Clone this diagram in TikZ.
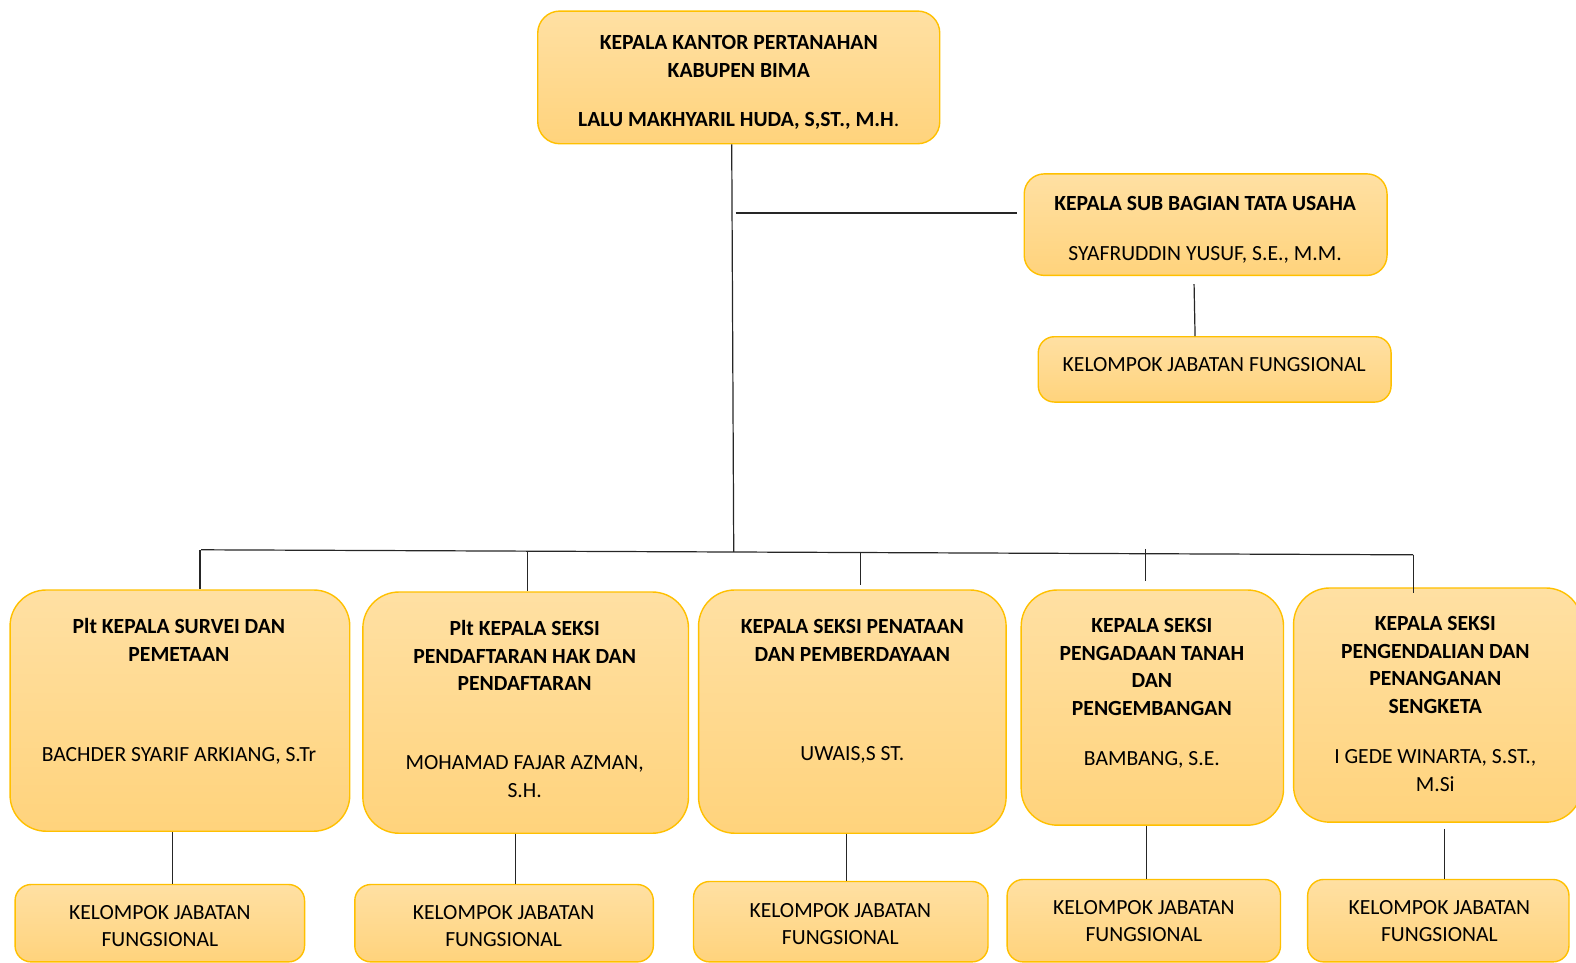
\documentclass[tikz,border=0pt]{standalone}
\usepackage{fontspec}
\setmainfont{Carlito}
\usetikzlibrary{fit}
\definecolor{kTop}{HTML}{FFE0A3}
\definecolor{kBot}{HTML}{FFD37C}
\definecolor{kLine}{HTML}{FFC000}
\newcommand{\B}[1]{\textbf{#1}}
\begin{document}
\begin{tikzpicture}[x=0.5pt,y=-0.5pt,
  box/.style={draw=kLine, line width=0.7pt, top color=kTop, bottom color=kBot, inner sep=0pt},
  txt/.style={align=center, inner sep=0pt, font=\fontsize{10.75}{13.7}\selectfont, anchor=north},
  link/.style={draw=black!85, line width=0.6pt}]
\useasboundingbox (0,0) rectangle (1568,958);

% boxes
\node[box, rounded corners=11pt, fit={(535,11)(935,143)}] (kk) {};
\node[box, rounded corners=10pt, fit={(1019,173)(1380,274)}] (sub) {};
\node[box, rounded corners=8pt, fit={(1033,335)(1384,400)}] (subk) {};
\node[box, rounded corners=18pt, fit={(10,587)(348,827)}] (s1) {};
\node[box, rounded corners=18pt, fit={(361,589)(685,829)}] (s2) {};
\node[box, rounded corners=18pt, fit={(695,587)(1001,829)}] (s3) {};
\node[box, rounded corners=18pt, fit={(1016,587)(1277,821)}] (s4) {};
\node[box, rounded corners=18pt, fit={(1287,585)(1574,818)}] (s5) {};
\node[box, rounded corners=8pt, fit={(15,880)(303,957)}] (k1) {};
\node[box, rounded corners=8pt, fit={(353,880)(650,957)}] (k2) {};
\node[box, rounded corners=8pt, fit={(690,877)(983,957)}] (k3) {};
\node[box, rounded corners=8pt, fit={(1002,875)(1274,957)}] (k4) {};
\node[box, rounded corners=8pt, fit={(1301,875)(1561,957)}] (k5) {};

% texts
\node[txt] (tkk) at (735,35) {\B{KEPALA KANTOR PERTANAHAN}\\\B{KABUPEN BIMA}\\[11pt]\B{LALU MAKHYARIL HUDA, S,ST., M.H}.};
\node[txt] (tsub) at (1199,195) {\B{KEPALA SUB BAGIAN TATA USAHA}\\[11pt]SYAFRUDDIN YUSUF, S.E., M.M.};
\node[txt] (tsubk) at (1208,355) {KELOMPOK JABATAN FUNGSIONAL};
\node[txt] (ts1) at (178,615) {\B{Plt KEPALA SURVEI DAN}\\\B{PEMETAAN}\\[36pt]BACHDER SYARIF ARKIANG, S.Tr};
\node[txt] (ts2) at (522,617) {\B{Plt KEPALA SEKSI}\\\B{PENDAFTARAN HAK DAN}\\\B{PENDAFTARAN}\\[25.5pt]MOHAMAD FAJAR AZMAN,\\S.H.};
\node[txt] (ts3) at (848,616) {\B{KEPALA SEKSI PENATAAN}\\\B{DAN PEMBERDAYAAN}\\[35.5pt]UWAIS,S ST.};
\node[txt] (ts4) at (1146,615) {\B{KEPALA SEKSI}\\\B{PENGADAAN TANAH}\\\B{DAN}\\\B{PENGEMBANGAN}\\[11.5pt]BAMBANG, S.E.};
\node[txt] (ts5) at (1428,613) {\B{KEPALA SEKSI}\\\B{PENGENDALIAN DAN}\\\B{PENANGANAN}\\\B{SENGKETA}\\[11.5pt]I GEDE WINARTA, S.ST.,\\M.Si};
\node[txt] (tk1) at (159,900) {KELOMPOK JABATAN\\FUNGSIONAL};
\node[txt] (tk2) at (501,900) {KELOMPOK JABATAN\\FUNGSIONAL};
\node[txt] (tk3) at (836,898) {KELOMPOK JABATAN\\FUNGSIONAL};
\node[txt] (tk4) at (1138,895) {KELOMPOK JABATAN\\FUNGSIONAL};
\node[txt] (tk5) at (1432,895) {KELOMPOK JABATAN\\FUNGSIONAL};

% connectors
\coordinate (vt) at (728,143);
\coordinate (j0) at (730,549);
\draw[link] (kk.south -| vt) -- (j0);
\coordinate (h1) at (732,212);
\draw[link] (h1) -- ([xshift=-3pt]sub.west |- h1);
\coordinate (sx) at (1188,0);
\coordinate (sx2) at (1189,0);
\draw[link] ([yshift=-4pt]sub.south -| sx) -- (sx2 |- subk.north);

\coordinate (bL) at (200,547);
\coordinate (bR) at (1406,552);
\draw[link] (bL) -- (bR);
\coordinate (d1) at (199,547);
\coordinate (d2) at (525,549);
\coordinate (d3) at (856,549);
\coordinate (d4) at (1140,546);
\coordinate (d5) at (1406,552);
\draw[link] (d1) -- (d1 |- s1.north);
\draw[link] (d2) -- (d2 |- s2.north);
\draw[link] (d3) -- ([yshift=2pt]d3 |- s3.north);
\draw[link] (d4) -- ([yshift=4pt]d4 |- s4.north);
\draw[link] (d5) -- ([yshift=-3pt]d5 |- s5.north);

\coordinate (e1) at (172,0);
\coordinate (e2) at (513,0);
\coordinate (e3) at (842,0);
\coordinate (e4) at (1141,0);
\coordinate (e5) at (1437,0);
\draw[link] (s1.south -| e1) -- (e1 |- k1.north);
\draw[link] (s2.south -| e2) -- (e2 |- k2.north);
\draw[link] (s3.south -| e3) -- (e3 |- k3.north);
\draw[link] (s4.south -| e4) -- (e4 |- k4.north);
\draw[link] ([yshift=-3pt]s5.south -| e5) -- (e5 |- k5.north);
\end{tikzpicture}
\end{document}
